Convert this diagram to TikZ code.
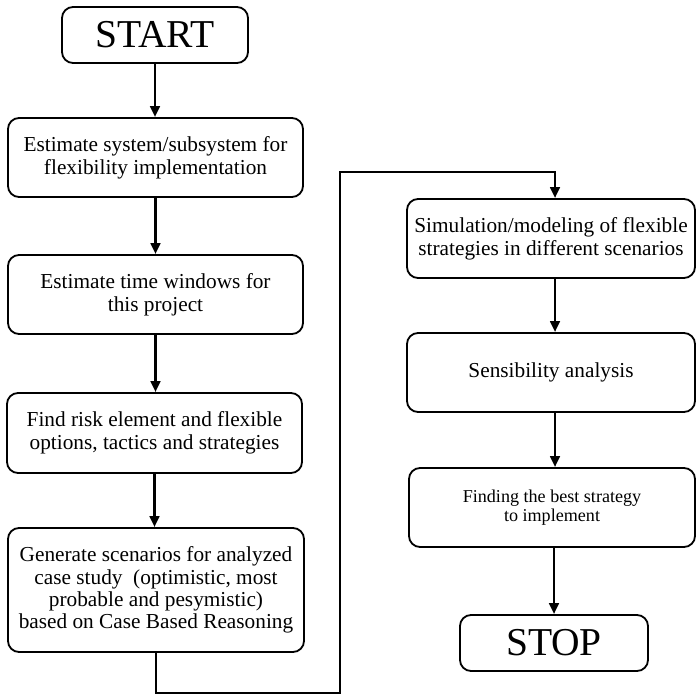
\documentclass[tikz,border=0pt]{standalone}
\usepackage{fontspec}
\setmainfont{Liberation Serif}
\usetikzlibrary{arrows.meta}
\tikzset{
  box/.style={draw, line width=1.8pt, rounded corners=11pt, align=center, inner sep=0pt,
    font=\fontsize{21.3}{23.2}\selectfont},
  bigbox/.style={box, font=\fontsize{39.5}{42}\selectfont},
  arr/.style={line width=2.8pt, -{Triangle[length=11pt,width=9.5pt]}},
}
\begin{document}
\begin{tikzpicture}[x=1pt,y=-1pt]
\useasboundingbox (0,0) rectangle (696,700);
\node[bigbox, minimum width=186, minimum height=56] (start) at (155,35) {START};
\node[box, minimum width=295, minimum height=79] (b1) at (155.5,157.5) {Estimate system/subsystem for\\flexibility implementation};
\node[box, minimum width=295, minimum height=79] (b2) at (155.5,294.5) {Estimate time windows for\\this project};
\node[box, minimum width=295, minimum height=80] (b3) at (154.5,433) {Find risk element and flexible\\options, tactics and strategies};
\node[box, minimum width=296, minimum height=124, font=\fontsize{21.3}{22.4}\selectfont] (b4) at (156,590) {Generate scenarios for analyzed\\case study\ \ (optimistic, most\\probable and pesymistic)\\based on Case Based Reasoning};
\node[box, minimum width=288, minimum height=79] (b5) at (551,238.5) {Simulation/modeling of flexible\\strategies in different scenarios};
\node[box, minimum width=288, minimum height=79] (b6) at (551,372.5) {Sensibility analysis};
\node[box, minimum width=286, minimum height=79, font=\fontsize{18.1}{18.8}\selectfont] (b7) at (552,507.5) {Finding the best strategy\\to implement};
\node[bigbox, minimum width=188, minimum height=56] (stop) at (554,643) {STOP};
\coordinate (c1) at (340,693);
\coordinate (c2) at (340,172);
\draw[arr] (start.south) -- (start.south |- b1.north);
\draw[arr] (b1.south) -- (b1.south |- b2.north);
\draw[arr] (b2.south) -- (b2.south |- b3.north);
\draw[arr] (b3.south) -- (b3.south |- b4.north);
\draw[arr] (b4.south) |- (c1) -- (c2) -| ([xshift=4pt]b5.north);
\draw[arr] ([xshift=4pt]b5.south) -- ([xshift=4pt]b6.north);
\draw[arr] ([xshift=4pt]b6.south) -- ([xshift=3pt]b7.north);
\draw[arr] ([xshift=2pt]b7.south) -- (stop.north);
\end{tikzpicture}
\end{document}
